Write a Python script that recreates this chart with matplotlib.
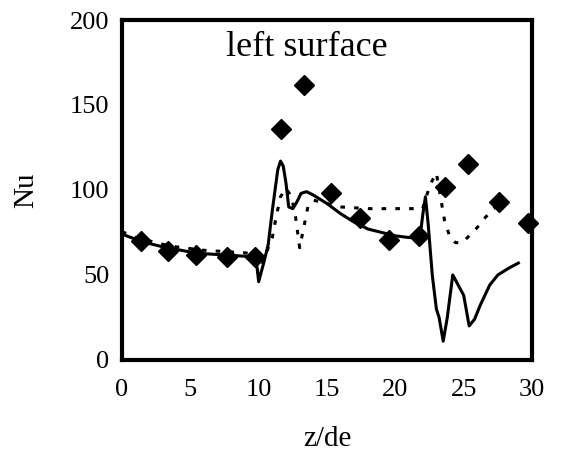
import matplotlib
matplotlib.use("Agg")
import matplotlib.pyplot as plt

plt.rcParams['font.family'] = ['Liberation Serif', 'DejaVu Serif']

# Solid line
solid_z = [0, 1, 2, 3, 4, 5, 6, 7, 8, 9, 9.8, 10.0, 10.4, 10.7, 11.0, 11.2, 11.4, 11.6, 11.8, 12.0,
           12.2, 12.5, 12.8, 13.1, 13.5, 14.0, 15, 16, 17, 18, 19, 20, 21, 21.8, 22.0, 22.2,
           22.4, 22.7, 23.0, 23.2, 23.5, 23.8, 24.2, 24.6, 25.0, 25.4, 25.8, 26.2, 26.9, 27.5, 28.3, 29.0]
solid_nu = [74, 71, 68.5, 66.5, 65, 63.5, 62.5, 62, 61.5, 61, 60, 46, 58, 68, 88, 100, 112, 117, 114, 104,
            90, 89, 93, 98, 99, 97, 92, 86, 81, 77, 75, 73, 72, 72, 85, 96,
            80, 50, 30, 25, 11, 25, 50, 44, 38, 20, 24, 32, 44, 50, 54, 57]

# Dotted line
dot_z = [0, 1, 2, 3, 4, 5, 6, 7, 8, 9, 9.8, 10.0, 10.3, 10.7, 11.0, 11.3, 11.6, 12.0, 12.4, 12.7,
         13.0, 13.3, 13.6, 14.0, 15, 16, 18, 20, 22.0, 22.3, 22.6, 23.0, 23.3, 23.6, 24.0, 24.4,
         24.9, 25.4, 26.0, 26.6, 27.2, 27.7]
dot_nu = [75.5, 72, 70, 68, 66.5, 65.5, 64.5, 64, 63.5, 63, 62, 47, 57, 66, 72, 85, 96, 101, 96, 84,
          66, 78, 90, 94, 92, 90, 89, 89, 89, 97, 104, 110, 96, 82, 72, 69,
          69, 73, 78, 84, 89, 92]

# Experimental points (diamonds)
exp_z = [1.4, 3.4, 5.4, 7.7, 9.7, 11.6, 13.3, 15.3, 17.4, 19.5, 21.7, 23.6, 25.3, 27.6, 29.7]
exp_nu = [70, 64, 62, 60.5, 60.5, 136, 162, 98, 83.5, 70.5, 73, 102, 115, 93, 80.5]

x_ticks = [0, 5, 10, 15, 20, 25, 30]
y_ticks = [0, 50, 100, 150, 200]

fig = plt.figure(figsize=(5.66, 4.55), dpi=100)
ax = fig.add_axes([0.2155, 0.209, 0.7245, 0.747])

ax.plot(solid_z, solid_nu, color='black', lw=2.2)
ax.plot(dot_z, dot_nu, color='black', lw=2.2, linestyle=(0, (1.5, 3)))
ax.plot(exp_z, exp_nu, linestyle='none', marker='D', color='black', ms=10.5, clip_on=False, zorder=5)

ax.set_xlim(0, 30)
ax.set_ylim(0, 200)
ax.set_xticks(x_ticks)
ax.set_yticks(y_ticks)
ax.tick_params(length=0, labelsize=19)
ax.tick_params(axis='x', pad=14)
ax.tick_params(axis='y', pad=9)
for s in ax.spines.values():
    s.set_linewidth(3)

ax.text(13.5, 184, 'left surface', ha='center', va='center', fontsize=26)
ax.set_xlabel('z/de', fontsize=21, labelpad=18)
ax.set_ylabel('Nu', fontsize=21, labelpad=22)

fig.savefig('out.png', dpi=100)
